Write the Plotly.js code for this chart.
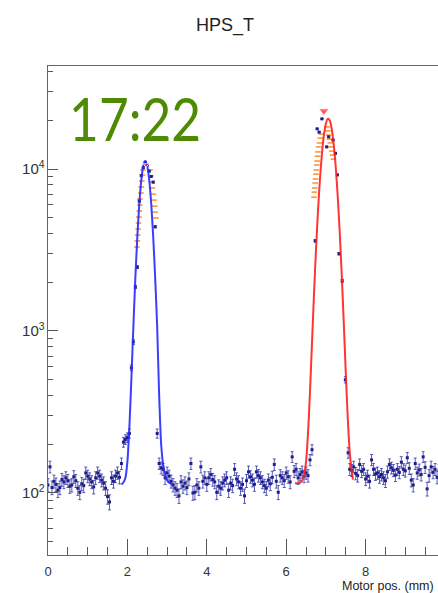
<!DOCTYPE html>
<html>
<head>
<meta charset="utf-8">
<script src="https://cdn.plot.ly/plotly-3.0.1.min.js"></script>
<style>
html,body{margin:0;padding:0;background:#fff;overflow:hidden;width:438px;height:593px;}
#chart{width:490px;height:593px;}
</style>
</head>
<body>
<div id="chart"></div>
<script>
// ---- scan data (Motor pos. mm, counts) ----
var scanX = [0.00,0.05,0.10,0.15,0.20,0.25,0.30,0.35,0.40,0.45,0.50,0.55,0.60,0.65,0.70,0.75,0.80,0.85,0.90,0.95,
1.00,1.05,1.10,1.15,1.20,1.25,1.30,1.35,1.40,1.45,1.50,1.55,1.60,1.65,1.70,1.75,1.80,1.85,1.90,1.95,
2.00,2.05,2.10,2.15,2.20,2.25,2.30,2.35,2.40,2.45,2.50,2.55,2.60,2.65,2.70,2.75,2.80,2.85,2.90,2.95,
3.00,3.05,3.10,3.15,3.20,3.25,3.30,3.35,3.40,3.45,3.50,3.55,3.60,3.65,3.70,3.75,3.80,3.85,3.90,3.95,
4.00,4.05,4.10,4.15,4.20,4.25,4.30,4.35,4.40,4.45,4.50,4.55,4.60,4.65,4.70,4.75,4.80,4.85,4.90,4.95,
5.00,5.05,5.10,5.15,5.20,5.25,5.30,5.35,5.40,5.45,5.50,5.55,5.60,5.65,5.70,5.75,5.80,5.85,5.90,5.95,
6.00,6.05,6.10,6.15,6.20,6.25,6.30,6.35,6.40,6.45,6.50,6.55,6.60,6.65,
6.73,6.78,6.83,6.90,7.02,7.07,7.18,7.24,7.29,7.33,7.41,7.49,7.56,
7.60,7.65,7.70,7.75,7.80,7.85,7.90,7.95,8.00,8.05,8.10,8.15,8.20,8.25,8.30,8.35,8.40,8.45,8.50,8.55,
8.60,8.65,8.70,8.75,8.80,8.85,8.90,8.95,9.00,9.05,9.10,9.15,9.20,9.25,9.30,9.35,9.40,9.45,9.50,9.55,
9.60,9.65,9.70,9.75,9.80,9.85,9.90,9.95];
var scanY = [112,145,108,118,113,104,108,121,117,124,119,110,112,126,119,107,101,114,111,133,
127,122,117,109,124,133,127,120,115,107,95,88,124,118,127,133,125,152,206,214,
220,233,592,855,1870,2480,6340,9100,10200,11000,10600,9700,9000,8300,4400,233,152,143,140,124,
133,127,118,112,107,104,96,117,110,115,108,122,152,100,101,112,107,145,118,124,
113,124,130,121,117,101,110,107,115,120,124,104,115,111,140,122,117,107,113,96,
119,135,126,120,113,135,128,124,117,111,107,120,114,125,150,118,101,128,124,119,
133,126,117,167,136,140,124,130,135,127,133,128,160,185,
3600,17700,16900,20400,13700,15800,15100,12500,9200,3000,2040,500,177,
140,138,145,132,128,150,136,140,122,127,118,160,140,131,133,126,130,124,119,135,
150,143,138,129,140,134,155,140,137,165,142,120,112,152,133,139,130,167,144,106,
128,145,134,140,125,138,130,142];

// ---- fit of first peak (blue) ----
var fit1X = [1.85,1.90,1.95,2.00,2.05,2.10,2.15,2.20,2.25,2.30,2.35,2.40,2.45,2.50,2.55,2.60,2.65,2.70,2.75,2.80,2.85,2.90,2.95,3.00,3.05,3.10,3.15];
var fit1Y = [113,116,124,156,255,505,1060,2120,3820,6100,8550,10450,11200,10450,8550,6100,3820,2120,1060,400,200,150,130,120,116,114,113];

// ---- fit of second peak (red) ----
var fit2X = [6.22,6.30,6.35,6.40,6.45,6.50,6.55,6.60,6.65,6.70,6.75,6.80,6.85,6.90,6.95,7.00,7.05,7.10,7.15,7.20,7.25,7.30,7.35,7.40,7.45,7.50,7.55,7.60,7.65,7.68];
var fit2Y = [115,115,116,119,128,156,234,425,849,1687,3163,5472,8643,12415,16175,19115,20475,19885,17495,13965,10105,6645,3981,2190,1123,558,292,179,136,121];

// ---- orange scan markers near the peaks ----
var orangeX = [2.24,2.25,2.26,2.27,2.28,2.29,2.30,2.31,2.32,2.34,2.35,2.36,2.38,2.39,
2.57,2.59,2.61,2.63,2.65,2.67,2.69,2.70,2.72,
6.70,6.71,6.72,6.73,6.74,6.75,6.76,6.77,6.78,6.79,6.80,6.82,6.84,6.86,6.88,
7.03,7.05,7.07,7.09,7.11,7.13,7.15,7.17,7.19];
var orangeY = [3300,3600,3910,4260,4640,5050,5500,5990,6530,7110,7740,8430,9180,9860,
9860,9060,8310,7630,7000,6430,5900,5420,4980,
6700,7200,7640,8200,8670,9300,9860,10580,11200,12000,12750,13680,14480,15530,16450,
18200,17200,16200,15300,14500,13700,12900,12200,11500];

// ---- peak markers (red) ----
var peakX = [2.47, 6.95];
var peakY = [10600, 22800];
var peakSize = [5, 9];

var xTickVals = [0, 2, 4, 6, 8];

var font = 'Liberation Sans, Arial, Helvetica, sans-serif';

var traces = [
  {x: orangeX, y: orangeY, type:'scatter', mode:'markers',
   marker:{symbol:'line-ew-open', size:4, color:'rgba(255,130,20,0.9)', line:{color:'rgba(255,130,20,0.9)', width:1.5}},
   hoverinfo:'skip', showlegend:false},
  {x: scanX, y: scanY, type:'scatter', mode:'markers',
   marker:{symbol:'square', size:3, color:'rgb(30,30,140)'},
   error_y:{type:'sqrt', visible:true, color:'rgba(40,40,160,0.75)', thickness:1, width:1.5},
   showlegend:false},
  {x: fit1X, y: fit1Y, type:'scatter', mode:'lines',
   line:{color:'rgba(40,40,255,0.9)', width:2, shape:'spline', smoothing:0.6},
   showlegend:false},
  {x: fit2X, y: fit2Y, type:'scatter', mode:'lines',
   line:{color:'rgba(255,30,30,0.9)', width:2, shape:'spline', smoothing:0.6},
   showlegend:false},
  {x: peakX, y: peakY, type:'scatter', mode:'markers',
   marker:{symbol:'triangle-down', size:peakSize, color:'rgb(255,30,30)'},
   showlegend:false}
];

var layout = {
  width: 490, height: 593,
  margin: {l:48, r:45, t:66, b:38},
  paper_bgcolor:'#fff', plot_bgcolor:'#fff',
  showlegend:false,
  font:{family:font, color:'#333', size:12},
  title:{text:'HPS_T', font:{family:font, size:18, color:'#222'},
         xref:'container', x:225/490, xanchor:'center',
         yref:'container', y:1-25/593, yanchor:'middle'},
  xaxis:{range:[0,10], tickvals:xTickVals, ticks:'inside', ticklen:16, tickwidth:1, tickcolor:'#555',
         minor:{dtick:0.5, tick0:0, ticks:'inside', ticklen:8, tickcolor:'#555', tickwidth:1},
         showline:true, linecolor:'#666', linewidth:1, mirror:true, showgrid:false, zeroline:false,
         ticklabelstandoff:4,
         tickfont:{family:font, size:13, color:'#333'}},
  yaxis:{type:'log', range:[1.617, 4.636], dtick:1, exponentformat:'power',
         ticks:'inside', ticklen:10, tickwidth:1, tickcolor:'#555',
         minor:{dtick:'D1', ticks:'inside', ticklen:5, tickcolor:'#555', tickwidth:1},
         showline:true, linecolor:'#666', linewidth:1, mirror:true, showgrid:false, zeroline:false,
         tickfont:{family:font, size:12, color:'#333'}},
  annotations:[
    {text:'17:22', xref:'paper', yref:'paper', x:(56-48)/397, y:(555-118)/489,
     xanchor:'left', yanchor:'middle', showarrow:false,
     font:{family:'Lato, sans-serif', size:60, color:'rgb(78,138,4)'}},
    {text:'Motor pos. (mm)', xref:'paper', yref:'paper', x:(436-48)/397, y:-(586-555)/489,
     xanchor:'right', yanchor:'middle', showarrow:false,
     font:{family:font, size:12.5, color:'#222'}}
  ]
};

Plotly.newPlot('chart', traces, layout, {displayModeBar:false, staticPlot:true}).then(function(gd){
  // condense the big clock label to the reference's narrow width
  var txts = gd.querySelectorAll('.annotation-text');
  txts.forEach(function(t){
    if (t.textContent === '17:22') {
      t.setAttribute('textLength', '132');
      t.setAttribute('lengthAdjust', 'spacingAndGlyphs');
    }
  });
});
</script>
</body>
</html>
